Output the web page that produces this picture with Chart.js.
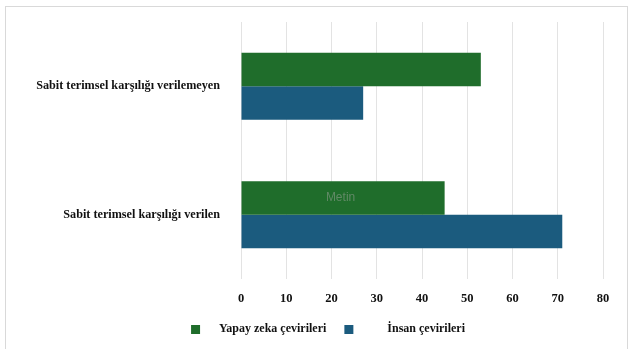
<!DOCTYPE html>
<html>
<head>
<meta charset="utf-8">
<script src="https://cdn.jsdelivr.net/npm/chart.js@4"></script>
<style>
  html, body { margin: 0; padding: 0; background: #fff; }
  #wrap { width: 631px; height: 349px; position: relative; }
</style>
</head>
<body>
<div id="wrap"><canvas id="chart" width="631" height="349"></canvas></div>
<script>
const categories = ['Sabit terimsel karşılığı verilemeyen', 'Sabit terimsel karşılığı verilen'];
const aiValues = [53, 45];      // Yapay zeka çevirileri
const humanValues = [27, 71];   // İnsan çevirileri
const seriesNames = ['Yapay zeka çevirileri', 'İnsan çevirileri'];
const xTicks = [0, 10, 20, 30, 40, 50, 60, 70, 80];

const GREEN = '#1f6d2b';
const BLUE = '#1b5b7e';
const SERIF = "'Liberation Serif', 'Times New Roman', serif";

// small square swatch on a wider transparent canvas, so the gap to the text can be set per item
function swatch(color, offset, w) {
  const c = document.createElement('canvas');
  c.width = w; c.height = 9;
  const g = c.getContext('2d');
  g.fillStyle = color;
  g.fillRect(offset, 0, 9, 9);
  return c;
}
const SW_W = 40;
const swatches = [swatch(GREEN, 18, SW_W), swatch(BLUE, 3, SW_W)];

// outer frame around the figure
const framePlugin = {
  id: 'frame',
  beforeDraw(chart) {
    const ctx = chart.ctx;
    ctx.save();
    ctx.strokeStyle = '#d9d9d9';
    ctx.lineWidth = 1;
    ctx.strokeRect(5.5, 6.5, 622, 360);
    ctx.restore();
  }
};

// faint "Metin" placeholder text sitting on the lower green bar
const placeholderPlugin = {
  id: 'placeholder',
  afterDatasetsDraw(chart) {
    const bar = chart.getDatasetMeta(0).data[1];
    if (!bar) return;
    const ctx = chart.ctx;
    ctx.save();
    ctx.fillStyle = 'rgba(150,160,150,0.55)';
    ctx.font = "12px 'Liberation Sans', Arial, sans-serif";
    ctx.textAlign = 'center';
    ctx.textBaseline = 'middle';
    ctx.fillText('Metin', chart.scales.x.getPixelForValue(22), bar.y);
    ctx.restore();
  }
};

const PAD_LEFT = 35;

new Chart(document.getElementById('chart'), {
  type: 'bar',
  data: {
    labels: categories,
    datasets: [
      { label: seriesNames[0], data: aiValues, backgroundColor: GREEN, pointStyle: swatches[0] },
      { label: seriesNames[1], data: humanValues, backgroundColor: BLUE, pointStyle: swatches[1] }
    ]
  },
  options: {
    indexAxis: 'y',
    responsive: false,
    animation: false,
    events: [],
    layout: { padding: { top: 22, right: 28, left: PAD_LEFT, bottom: 4 } },
    datasets: { bar: { categoryPercentage: 0.52, barPercentage: 1.0 } },
    scales: {
      x: {
        min: 0,
        max: 80,
        afterBuildTicks(scale) { scale.ticks = xTicks.map(v => ({ value: v })); },
        afterFit(scale) { scale.height = 29; },
        border: { display: false },
        grid: { color: '#e3e3e3', drawTicks: false },
        ticks: { color: '#111', padding: 12, font: { family: SERIF, size: 12.5, weight: 'bold' } }
      },
      y: {
        afterFit(scale) {
          scale.width = 241 - PAD_LEFT;
          // the tick padding is only meant as a horizontal gap
          scale.paddingTop = 0;
          scale.paddingBottom = 0;
        },
        border: { display: false },
        grid: { display: false, drawTicks: false },
        ticks: { color: '#111', padding: 21, font: { family: SERIF, size: 12.2, weight: 'bold' } }
      }
    },
    plugins: {
      legend: {
        position: 'bottom',
        labels: {
          usePointStyle: true,
          pointStyleWidth: SW_W,
          boxHeight: 9,
          padding: 15,
          color: '#111',
          font: { family: SERIF, size: 12, weight: 'bold' }
        }
      },
      tooltip: { enabled: false }
    }
  },
  plugins: [framePlugin, placeholderPlugin]
});
</script>
</body>
</html>
